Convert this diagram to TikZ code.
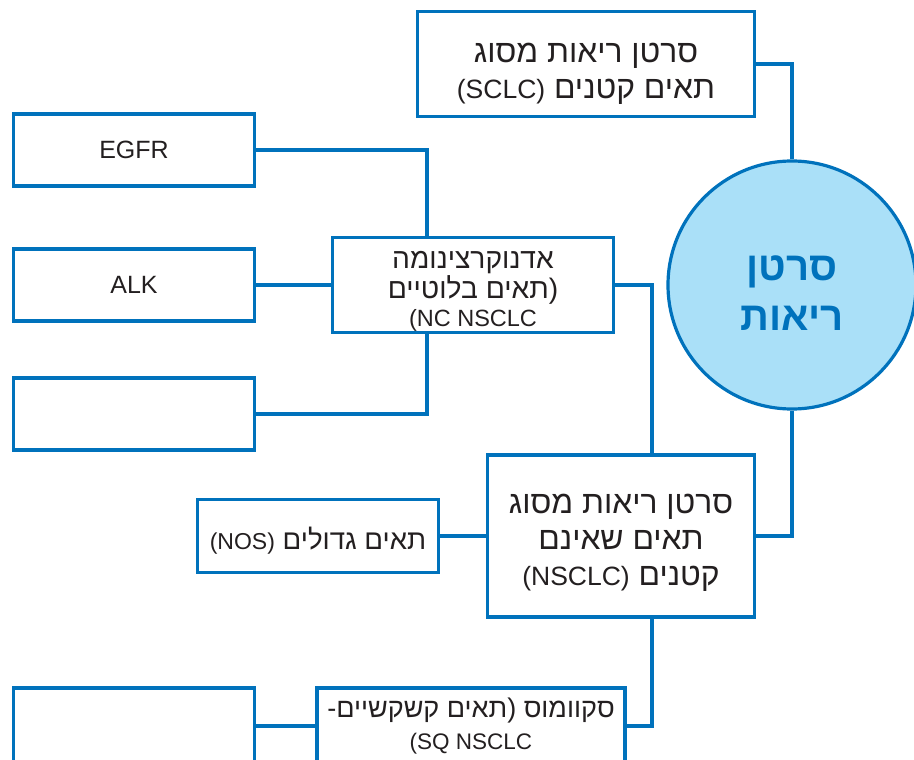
\documentclass[tikz,border=0pt]{standalone}
\usepackage{fontspec}
\setmainfont{Liberation Sans}
\newfontfamily\heb[Script=Hebrew,Scale=1.2]{Liberation Sans}
\TeXXeTstate=1
\definecolor{lungblue}{RGB}{0,114,188}
\definecolor{lungfill}{RGB}{170,224,248}
\definecolor{ink}{RGB}{35,31,32}
\newcommand{\hebline}[1]{\beginR #1\endR}
\newcommand{\lat}[1]{{\rmfamily #1}}
\newcommand{\topgap}[1]{\rule{0pt}{#1}}

\begin{document}
\begin{tikzpicture}[
  x=1pt, y=-1pt,
  every node/.style={font=\heb, text=ink},
  box/.style={draw=lungblue, line width=3.2pt, fill=white, align=center, inner sep=0pt},
  big/.style={font=\heb\fontsize{26.5}{36}\selectfont},
  small/.style={font=\heb\fontsize{23.5}{28}\selectfont},
  link/.style={draw=lungblue, line width=3.2pt}
]
\clip (0,0) rectangle (914,760);

% Right column
\node[box, big, minimum width=337pt, minimum height=105pt] (sclc) at (586,64) {\topgap{39pt}\hebline{סרטן ריאות מסוג}\\\hebline{תאים קטנים \lat{(SCLC)}}};
\node[circle, draw=lungblue, line width=3.2pt, fill=lungfill, minimum size=248pt, align=center,
  text=lungblue, font=\heb\bfseries\fontsize{33.5}{50}\selectfont] (lung) at (792,285) {\topgap{40pt}\hebline{סרטן}\\\hebline{ריאות}};
\node[box, big, minimum width=267pt, minimum height=162pt] (nsclc) at (621,536) {\topgap{32pt}\hebline{סרטן ריאות מסוג}\\\hebline{תאים שאינם}\\\hebline{קטנים \lat{(NSCLC)}}};

% Middle column
\node[box, small, minimum width=281pt, minimum height=95pt] (adeno) at (473,285) {\topgap{30pt}\hebline{אדנוקרצינומה}\\\hebline{(\kern0pt תאים בלוטיים}\\\lat{(NC NSCLC}};
\node[box, font=\heb\fontsize{23}{28}\selectfont, minimum width=241pt, minimum height=73pt] (nos) at (318,536) {\topgap{31pt}\hebline{תאים גדולים \lat{(NOS)}}};
\node[box, font=\heb\fontsize{22.5}{32}\selectfont, minimum width=308pt, minimum height=76pt] (squam) at (471,726) {\hebline{סקוומוס (\kern0pt תאים קשקשיים\kern0pt-}\\\lat{(SQ NSCLC}};

% Left column
\node[box, font=\rmfamily\fontsize{25}{30}\selectfont, minimum width=241pt, minimum height=72pt] (egfr) at (134,150) {EGFR};
\node[box, font=\rmfamily\fontsize{25}{30}\selectfont, minimum width=241pt, minimum height=72pt] (alk) at (134,285) {ALK};
\node[box, minimum width=241pt, minimum height=72pt] (other) at (134,414) {};
\node[box, minimum width=241pt, minimum height=76pt] (squamsub) at (134,726) {};

% Links
\draw[link] (sclc.east) -| (lung.north);
\draw[link] (lung.south) |- (nsclc.east);
\draw[link] (egfr.east) -| ([xshift=-46pt]adeno.north);
\draw[link] (alk) -- (adeno);
\draw[link] (other.east) -| ([xshift=-46pt]adeno.south);
\draw[link] (adeno.east) -| ([xshift=31pt]nsclc.north);
\draw[link] (nos) -- (nsclc);
\draw[link] ([xshift=31pt]nsclc.south) |- (squam.east);
\draw[link] (squam) -- (squamsub);

\end{tikzpicture}
\end{document}
